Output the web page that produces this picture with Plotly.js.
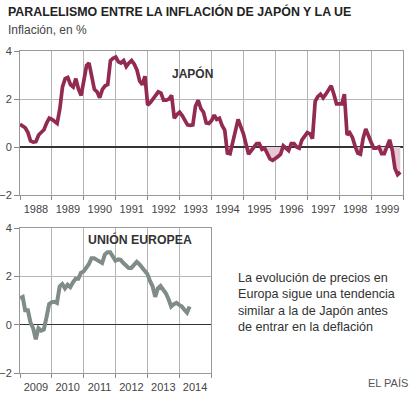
<!DOCTYPE html>
<html>
<head>
<meta charset="utf-8">
<script src="https://cdn.plot.ly/plotly-3.0.1.min.js"></script>
<style>
html,body{margin:0;padding:0;background:#fff;}
#chart{width:414px;height:397px;}
</style>
</head>
<body>
<div id="chart"></div>
<script>
// Japan CPI inflation, monthly, Jan 1988 – Dec 1999 (%)
const japanStart = [1988, 1];
const japanInflation = [
  0.95, 0.88, 0.80, 0.60, 0.25, 0.20, 0.22, 0.50, 0.62, 0.72, 1.00, 1.20,
  1.15, 1.05, 0.98, 1.60, 2.50, 2.85, 2.90, 2.60, 2.50, 2.85, 2.40, 2.15,
  2.85, 3.40, 3.50, 3.00, 2.40, 2.30, 2.05, 2.40, 2.55, 2.60, 3.60, 3.70,
  3.75, 3.55, 3.50, 3.60, 3.35, 3.50, 3.60, 3.45, 3.20, 2.75, 2.60, 2.95,
  1.75, 1.85, 2.00, 2.20, 2.30, 2.25, 1.95, 1.95, 2.00, 2.15, 1.20, 1.35,
  1.45, 1.30, 1.10, 0.92, 0.90, 0.92, 1.70, 1.95, 1.60, 1.45, 1.00, 0.98,
  1.10, 1.33, 1.15, 1.20, 0.90, 0.70, -0.25, -0.28, 0.20, 0.60, 1.15, 0.85,
  0.55, 0.10, -0.30, -0.15, -0.02, 0.14, 0.14, -0.10, -0.05, -0.30, -0.50, -0.56,
  -0.50, -0.40, -0.30, 0.05, -0.05, -0.15, 0.14, 0.14, 0.00, -0.05, 0.30, 0.42,
  0.60, 0.55, 0.35, 1.90, 2.10, 2.20, 2.05, 2.20, 2.40, 2.55, 2.20, 1.80,
  1.80, 1.80, 2.20, 0.50, 0.60, 0.40, 0.05, -0.25, -0.30, 0.35, 0.75, 0.45,
  0.20, -0.05, -0.05, 0.00, -0.28, -0.28, 0.05, 0.30, -0.15, -0.90, -1.15, -1.05
];

// EU inflation, monthly, Jan 2009 – May 2014 (%)
const euStart = [2009, 1];
const euInflation = [
  1.10, 1.15, 0.60, 0.60, 0.10, -0.15, -0.60, -0.15, -0.25, -0.20, 0.30, 0.85,
  0.93, 0.95, 0.90, 1.58, 1.68, 1.50, 1.65, 1.55, 1.75, 1.90, 1.90, 2.15,
  2.20, 2.35, 2.50, 2.75, 2.75, 2.68, 2.60, 2.55, 2.90, 3.00, 3.00, 2.80,
  2.65, 2.70, 2.68, 2.55, 2.45, 2.35, 2.35, 2.45, 2.60, 2.50, 2.35, 2.20,
  2.10, 1.80, 1.60, 1.15, 1.50, 1.60, 1.45, 1.30, 1.05, 0.75, 0.85, 0.90,
  0.82, 0.75, 0.62, 0.50, 0.75
];

const yTicks = [-2, 0, 2, 4];
const japanRange = ['1988-01-01', '2000-01-01'];
const euRange = ['2009-01-01', '2015-01-01'];

function monthDates(start, n) {
  const out = [];
  for (let i = 0; i < n; i++) {
    out.push(Date.UTC(start[0], start[1] - 1 + i, 1));
  }
  return out;
}

// negative-area polygon (clipped at zero, with interpolated crossings)
function negativeArea(xs, ys) {
  const fx = [], fy = [];
  for (let i = 0; i < ys.length; i++) {
    if (i > 0) {
      const y0 = ys[i - 1], y1 = ys[i];
      if ((y0 < 0 && y1 > 0) || (y0 > 0 && y1 < 0)) {
        const t = y0 / (y0 - y1);
        fx.push(xs[i - 1] + t * (xs[i] - xs[i - 1]));
        fy.push(0);
      }
    }
    fx.push(xs[i]);
    fy.push(Math.min(ys[i], 0));
  }
  return {x: fx, y: fy};
}

const jx = monthDates(japanStart, japanInflation.length);
const ex = monthDates(euStart, euInflation.length);
const neg = negativeArea(jx, japanInflation);

const FONT = '"Liberation Sans", Arial, Helvetica, sans-serif';
const JP_COLOR = '#922a51';
const FILL = '#e6c9d3';
const EU_COLOR = '#7f8c88';
const GRID = '#b5b5b5';

const traces = [
  {x: neg.x, y: neg.y, xaxis: 'x', yaxis: 'y', type: 'scatter', mode: 'lines',
   line: {width: 0, color: FILL}, fill: 'tozeroy', fillcolor: FILL, hoverinfo: 'skip'},
  {x: jx, y: japanInflation, xaxis: 'x', yaxis: 'y', type: 'scatter', mode: 'lines',
   line: {color: JP_COLOR, width: 3.7}},
  {x: ex, y: euInflation, xaxis: 'x2', yaxis: 'y2', type: 'scatter', mode: 'lines',
   line: {color: EU_COLOR, width: 4}}
];

function xAxis(range, domain, anchor) {
  return {
    type: 'date', range: range, domain: domain, anchor: anchor,
    dtick: 'M12', tick0: range[0], tickformat: '%Y', ticklabelmode: 'period',
    showgrid: true, gridcolor: GRID, gridwidth: 1,
    ticks: 'outside', ticklen: 4, tickcolor: '#888', tickwidth: 1,
    showline: true, linecolor: '#999', linewidth: 1, mirror: true,
    tickfont: {family: FONT, size: 11, color: '#444'},
    fixedrange: true
  };
}
function yAxis(domain, anchor) {
  return {
    range: [-2, 4], domain: domain, anchor: anchor,
    tickmode: 'array', tickvals: yTicks,
    showgrid: true, gridcolor: GRID, gridwidth: 1,
    zeroline: true, zerolinecolor: '#333', zerolinewidth: 1.5,
    ticks: 'outside', ticklen: 5, tickcolor: '#888', tickwidth: 1,
    showline: true, linecolor: '#999', linewidth: 1, mirror: true,
    tickfont: {family: FONT, size: 11, color: '#444'},
    fixedrange: true
  };
}

const layout = {
  width: 414, height: 397,
  margin: {l: 0, r: 0, t: 0, b: 0},
  paper_bgcolor: '#fff', plot_bgcolor: '#fff',
  showlegend: false,
  font: {family: FONT, color: '#333'},
  xaxis: xAxis(japanRange, [20/414, 403/414], 'y'),
  yaxis: yAxis([(397-195)/397, (397-51)/397], 'x'),
  xaxis2: xAxis(euRange, [20/414, 211/414], 'y2'),
  yaxis2: yAxis([(397-373)/397, (397-228)/397], 'x2'),
  annotations: [
    {text: '<b>PARALELISMO ENTRE LA INFLACIÓN DE JAPÓN Y LA UE</b>', xref: 'paper', yref: 'paper',
     x: 6/414, y: 1 - 12/397, xanchor: 'left', yanchor: 'middle', showarrow: false,
     font: {family: FONT, size: 12.4, color: '#222'}},
    {text: 'Inflación, en %', xref: 'paper', yref: 'paper',
     x: 6/414, y: 1 - 30/397, xanchor: 'left', yanchor: 'middle', showarrow: false,
     font: {family: FONT, size: 12, color: '#444'}},
    {text: '<b>JAPÓN</b>', xref: 'paper', yref: 'paper',
     x: 170/414, y: 1 - 73/397, xanchor: 'left', yanchor: 'middle', showarrow: false,
     font: {family: FONT, size: 12, color: '#333'}},
    {text: '<b>UNIÓN EUROPEA</b>', xref: 'paper', yref: 'paper',
     x: 86/414, y: 1 - 239/397, xanchor: 'left', yanchor: 'middle', showarrow: false,
     font: {family: FONT, size: 12.3, color: '#333'}},
    {text: 'La evolución de precios en<br>Europa sigue una tendencia<br>similar a la de Japón antes<br>de entrar en la deflación',
     xref: 'paper', yref: 'paper', align: 'left',
     x: 236/414, y: 1 - 302/397, xanchor: 'left', yanchor: 'middle', showarrow: false,
     font: {family: FONT, size: 12.6, color: '#333'}},
    {text: 'EL PAÍS', xref: 'paper', yref: 'paper',
     x: 410/414, y: 1 - 383/397, xanchor: 'right', yanchor: 'middle', showarrow: false,
     font: {family: FONT, size: 11, color: '#555'}}
  ]
};

Plotly.newPlot('chart', traces, layout, {displayModeBar: false, staticPlot: true});
</script>
</body>
</html>
